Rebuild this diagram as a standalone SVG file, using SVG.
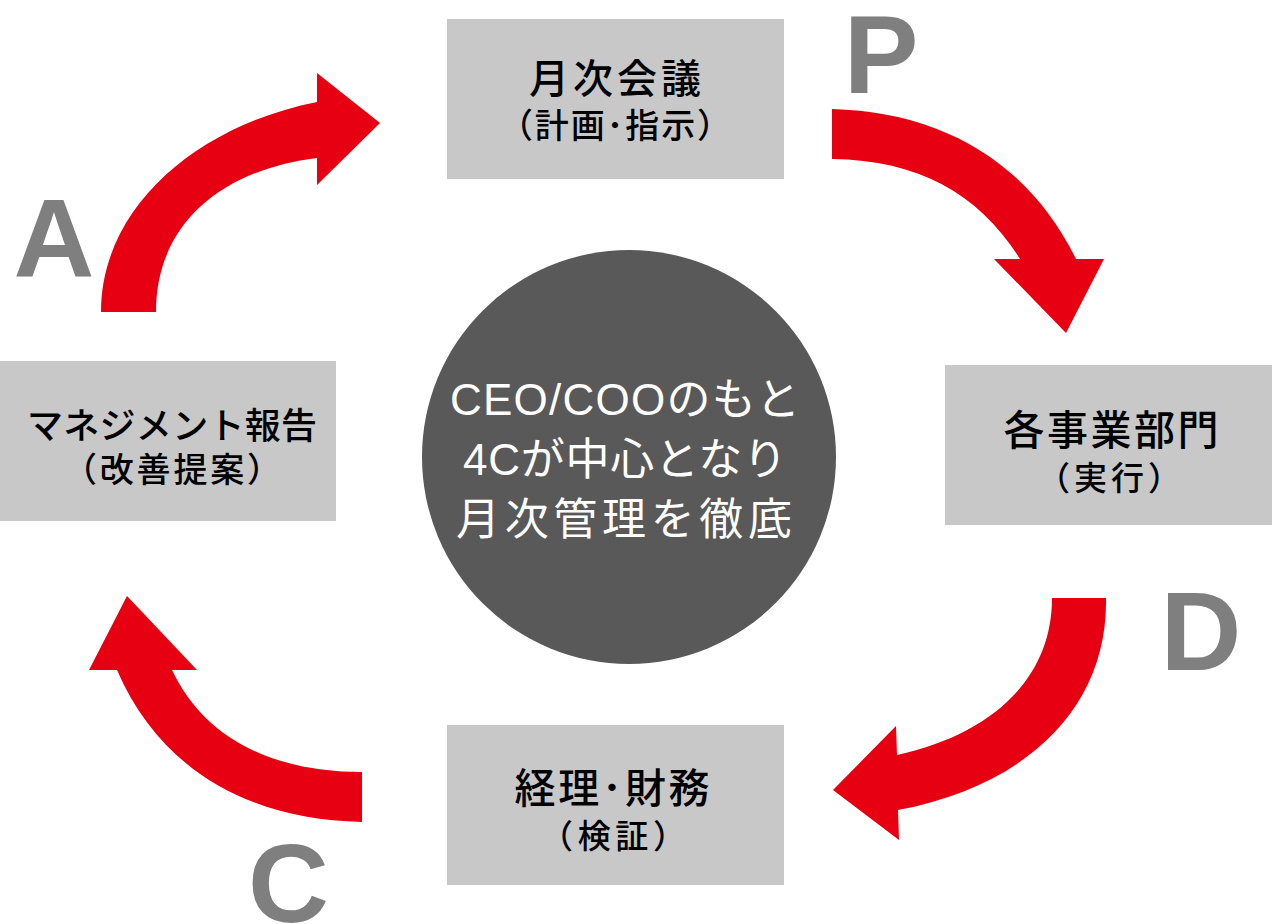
<svg xmlns="http://www.w3.org/2000/svg" width="1272" height="924" viewBox="0 0 1272 924">
<style>
.box{fill:#c8c8c8}
.t{font-family:"Liberation Sans","Noto Sans CJK JP",sans-serif;fill:#000;text-anchor:middle;font-weight:500}
.c{font-family:"Liberation Sans","Noto Sans CJK JP",sans-serif;fill:#fff;text-anchor:middle;font-size:44px}
.arrow{fill:#e60012}
.lbl{font-family:"Liberation Sans",Arial,sans-serif;font-weight:bold;font-size:112px;fill:#7f7f7f}
</style>
<rect width="1272" height="924" fill="#fff"/>
<g id="connectors">
<path class="arrow" d="M101,312 C101,205 200,125 317,102 L317,73 L380,123 L317,185 L317,158 C220,170 156,225 156,312 Z"/>
<path class="arrow" d="M832,109 C945,112 1030,165 1076,259 L1104,259 L1066,333 L994,259 L1020,259 C980,195 920,160 832,159 Z"/>
<path class="arrow" d="M1106,598 C1108,705 1030,785 898,810 L899,840 L833,790 L896,726 L897,755 C990,735 1052,680 1052,598 Z"/>
<path class="arrow" d="M362,822 C250,820 160,770 117,670 L89,670 L127,596 L197,670 L172,670 C205,740 275,772 362,772 Z"/>
</g>
<g id="phase-labels">
<text class="lbl" x="881" y="93" text-anchor="middle">P</text>
<text class="lbl" x="1201" y="670" text-anchor="middle">D</text>
<text class="lbl" x="248" y="922">C</text>
<text class="lbl" x="54" y="277" text-anchor="middle">A</text>
</g>
<g id="node-monthly-meeting">
<rect class="box" x="447" y="19" width="337" height="160"/>
<text class="t" x="615" y="93" font-size="40" textLength="172" lengthAdjust="spacing">月次会議</text>
<text class="t" x="615" y="138" font-size="34" textLength="232" lengthAdjust="spacing">（計画･指示）</text>
</g>
<g id="node-business-units">
<rect class="box" x="945" y="365" width="327" height="160"/>
<text class="t" x="1111" y="445" font-size="41" textLength="215" lengthAdjust="spacing">各事業部門</text>
<text class="t" x="1109" y="490" font-size="33" textLength="144" lengthAdjust="spacing">（実行）</text>
</g>
<g id="node-accounting">
<rect class="box" x="447" y="725" width="337" height="160"/>
<text class="t" x="612" y="803" font-size="41" textLength="195" lengthAdjust="spacing">経理･財務</text>
<text class="t" x="613" y="848" font-size="33" textLength="146" lengthAdjust="spacing">（検証）</text>
</g>
<g id="node-management-report">
<rect class="box" x="0" y="361" width="336" height="160"/>
<text class="t" x="172" y="439" font-size="36" textLength="290" lengthAdjust="spacing">マネジメント報告</text>
<text class="t" x="172" y="482" font-size="34" textLength="218" lengthAdjust="spacing">（改善提案）</text>
</g>
<g id="node-center">
<circle cx="629" cy="457" r="207" fill="#595959"/>
<text class="c" x="625" y="415" textLength="350" lengthAdjust="spacing">CEO/COOのもと</text>
<text class="c" x="625" y="475" textLength="324" lengthAdjust="spacing">4Cが中心となり</text>
<text class="c" x="624" y="535" textLength="336" lengthAdjust="spacing">月次管理を徹底</text>
</g>
</svg>
